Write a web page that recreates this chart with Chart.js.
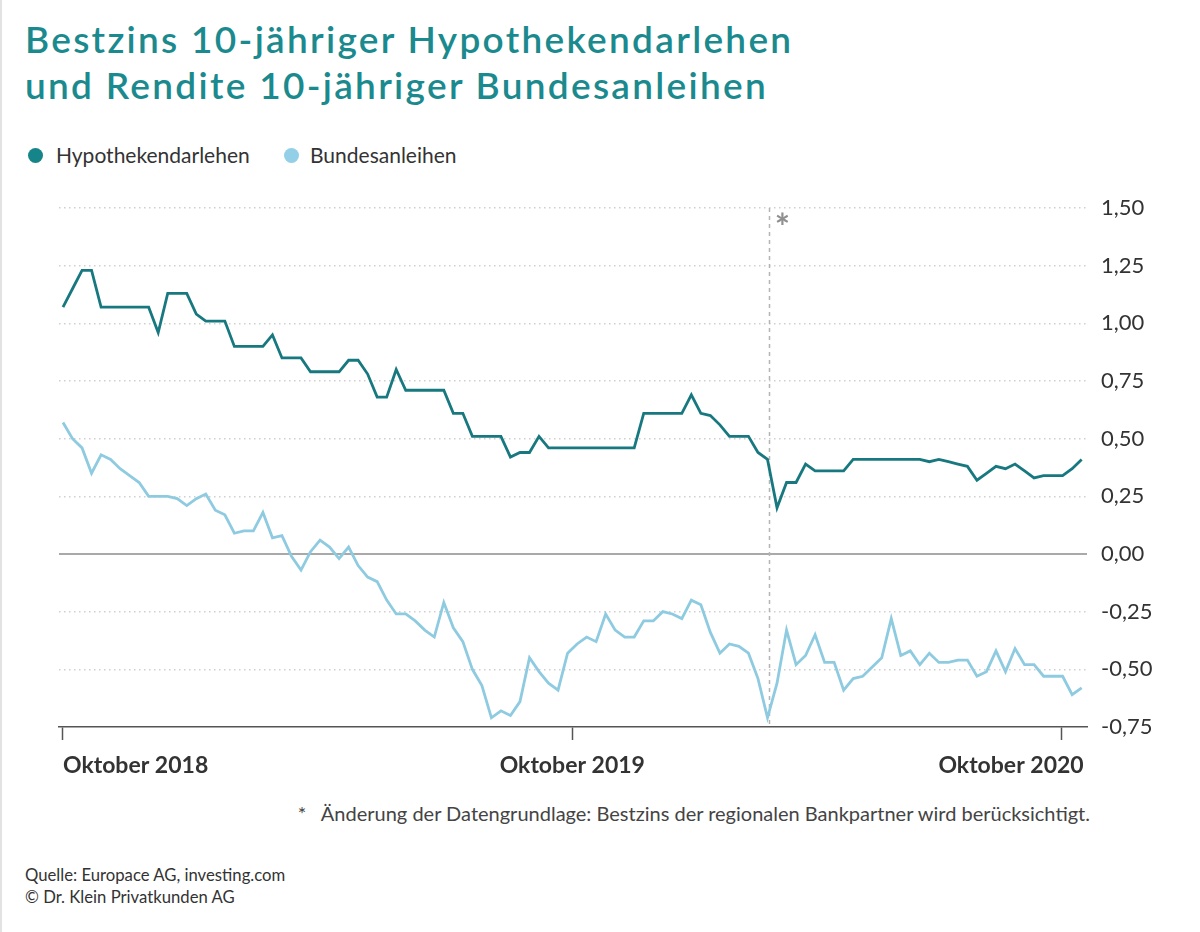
<!DOCTYPE html>
<html lang="de">
<head>
<meta charset="utf-8">
<title>Bestzins und Bundesanleihen</title>
<script src="https://cdn.jsdelivr.net/npm/chart.js@4.4.1/dist/chart.umd.min.js"></script>
<style>
  html, body { margin: 0; padding: 0; background: #fff; }
  body { width: 1200px; height: 932px; position: relative; overflow: hidden; font-family: "Lato", "Noto Sans", sans-serif; color: #333; }
  .edge { position: absolute; left: 0; top: 0; width: 2px; height: 932px; background: #e2e2e2; }
  h1 { position: absolute; left: 25px; top: 16px; margin: 0; font-size: 37px; line-height: 46px; font-weight: 600; color: #1b8a8e; letter-spacing: 2.3px; white-space: nowrap; }
  .legend { position: absolute; left: 28px; top: 141px; font-size: 21px; line-height: 28px; }
  .legend span { position: absolute; white-space: nowrap; }
  .dot { width: 15px; height: 15px; border-radius: 50%; top: 7px; }
  .note { position: absolute; right: 110px; top: 801px; font-size: 20px; color: #444; white-space: nowrap; }
  .source { position: absolute; left: 25px; top: 864px; font-size: 16.7px; line-height: 22px; color: #333; }
  #wrap { position: absolute; left: 0; top: 190px; width: 1200px; height: 600px; }
</style>
</head>
<body>
<div class="edge"></div>
<h1>Bestzins 10-jähriger Hypothekendarlehen<br>und Rendite 10-jähriger Bundesanleihen</h1>
<div class="legend">
  <span class="dot" style="left:0;background:#16858a"></span>
  <span style="left:28px">Hypothekendarlehen</span>
  <span class="dot" style="left:256px;background:#93cfe6"></span>
  <span style="left:282px">Bundesanleihen</span>
</div>
<div id="wrap"><canvas id="myChart" width="1200" height="600"></canvas></div>
<div class="note">*&nbsp;&nbsp; Änderung der Datengrundlage: Bestzins der regionalen Bankpartner wird berücksichtigt.</div>
<div class="source">Quelle: Europace AG, investing.com<br>© Dr. Klein Privatkunden AG</div>

<script>
// weekly values, Oktober 2018 - Oktober 2020 (in %)
var hypoValues = [
  1.07, 1.15, 1.23, 1.23, 1.07, 1.07, 1.07, 1.07, 1.07, 1.07,
  0.96, 1.13, 1.13, 1.13, 1.04, 1.01, 1.01, 1.01, 0.90, 0.90,
  0.90, 0.90, 0.95, 0.85, 0.85, 0.85, 0.79, 0.79, 0.79, 0.79,
  0.84, 0.84, 0.78, 0.68, 0.68, 0.80, 0.71, 0.71, 0.71, 0.71,
  0.71, 0.61, 0.61, 0.51, 0.51, 0.51, 0.51, 0.42, 0.44, 0.44,
  0.51, 0.46, 0.46, 0.46, 0.46, 0.46, 0.46, 0.46, 0.46, 0.46,
  0.46, 0.61, 0.61, 0.61, 0.61, 0.61, 0.69, 0.61, 0.60, 0.56,
  0.51, 0.51, 0.51, 0.44, 0.41, 0.20, 0.31, 0.31, 0.39, 0.36,
  0.36, 0.36, 0.36, 0.41, 0.41, 0.41, 0.41, 0.41, 0.41, 0.41,
  0.41, 0.40, 0.41, 0.40, 0.39, 0.38, 0.32, 0.35, 0.38, 0.37,
  0.39, 0.36, 0.33, 0.34, 0.34, 0.34, 0.37, 0.41
];
var bundValues = [
  0.57, 0.50, 0.46, 0.35, 0.43, 0.41, 0.37, 0.34, 0.31, 0.25,
  0.25, 0.25, 0.24, 0.21, 0.24, 0.26, 0.19, 0.17, 0.09, 0.10,
  0.10, 0.18, 0.07, 0.08, -0.01, -0.07, 0.01, 0.06, 0.03, -0.02,
  0.03, -0.05, -0.10, -0.12, -0.20, -0.26, -0.26, -0.29, -0.33, -0.36,
  -0.21, -0.32, -0.38, -0.50, -0.57, -0.71, -0.68, -0.70, -0.64, -0.45,
  -0.51, -0.56, -0.59, -0.43, -0.39, -0.36, -0.38, -0.26, -0.33, -0.36,
  -0.36, -0.29, -0.29, -0.25, -0.26, -0.28, -0.20, -0.22, -0.34, -0.43,
  -0.39, -0.40, -0.43, -0.54, -0.71, -0.56, -0.33, -0.48, -0.44, -0.35,
  -0.47, -0.47, -0.59, -0.54, -0.53, -0.49, -0.45, -0.28, -0.44, -0.42,
  -0.48, -0.43, -0.47, -0.47, -0.46, -0.46, -0.53, -0.51, -0.42, -0.51,
  -0.41, -0.48, -0.48, -0.53, -0.53, -0.53, -0.61, -0.58
];
var tickWeeks = [0, 53.5, 104.9];
var tickLabels = ["Oktober 2018", "Oktober 2019", "Oktober 2020"];
var yTicks = [-0.75, -0.5, -0.25, 0, 0.25, 0.5, 0.75, 1, 1.25, 1.5];
var changeWeek = 74.15; // Änderung der Datengrundlage

var hypoPoints = hypoValues.map(function (v, i) { return {x: i, y: v}; });
var bundPoints = bundValues.map(function (v, i) { return {x: i, y: v}; });

// zero line, dashed marker line, x labels
var extras = {
  id: "extras",
  beforeDatasetsDraw: function (chart) {
    var ctx = chart.ctx, a = chart.chartArea;
    var xs = chart.scales.x, ys = chart.scales.y;
    var y0 = ys.getPixelForValue(0);
    var yTop = ys.getPixelForValue(1.5);
    ctx.save();
    ctx.strokeStyle = "#8c8c8c";
    ctx.lineWidth = 1.5;
    ctx.beginPath();
    ctx.moveTo(a.left, y0);
    ctx.lineTo(a.right, y0);
    ctx.stroke();
    var xc = Math.round(xs.getPixelForValue(changeWeek)) + 0.5;
    ctx.strokeStyle = "#b4b4b4";
    ctx.setLineDash([4, 4]);
    ctx.beginPath();
    ctx.moveTo(xc, yTop);
    ctx.lineTo(xc, a.bottom);
    ctx.stroke();
    ctx.setLineDash([]);
    ctx.fillStyle = "#8f8f8f";
    ctx.font = "bold 36px Lato";
    ctx.textAlign = "center";
    ctx.textBaseline = "middle";
    ctx.fillText("*", xc + 13, yTop + 20);
    ctx.restore();
  },
  afterDraw: function (chart) {
    var ctx = chart.ctx, a = chart.chartArea, xs = chart.scales.x;
    var aligns = ["left", "center", "right"];
    ctx.save();
    ctx.fillStyle = "#333";
    ctx.font = "bold 23px Lato";
    ctx.textBaseline = "middle";
    tickLabels.forEach(function (t, i) {
      var x = xs.getPixelForValue(tickWeeks[i]);
      if (i === tickLabels.length - 1) x = xs.getPixelForValue(hypoValues.length - 1) + 2;
      ctx.textAlign = aligns[i];
      ctx.fillText(t, x, a.bottom + 39);
    });
    ctx.restore();
  }
};

new Chart("myChart", {
  type: "line",
  data: {
    datasets: [{
      label: "Hypothekendarlehen",
      data: hypoPoints,
      borderColor: "#17797f",
      borderWidth: 2.8,
      pointRadius: 0,
      tension: 0
    }, {
      label: "Bundesanleihen",
      data: bundPoints,
      borderColor: "#8ecbe0",
      borderWidth: 2.8,
      pointRadius: 0,
      tension: 0
    }]
  },
  options: {
    responsive: false,
    animation: false,
    devicePixelRatio: 1,
    layout: {padding: {left: 59, right: 0, top: 18, bottom: 0}},
    plugins: {
      legend: {display: false},
      title: {display: false},
      tooltip: {enabled: false}
    },
    scales: {
      x: {
        type: "linear",
        min: -0.42,
        max: 107.56,
        afterBuildTicks: function (scale) {
          scale.ticks = tickWeeks.map(function (v) { return {value: v}; });
        },
        afterFit: function (scale) { scale.height = 63; },
        ticks: {display: false},
        grid: {drawOnChartArea: false, drawTicks: true, tickLength: 13, tickColor: "#555", tickWidth: 1.5},
        border: {display: true, color: "#555", width: 1.5}
      },
      y: {
        position: "right",
        min: -0.75,
        max: 1.5,
        afterBuildTicks: function (scale) {
          scale.ticks = yTicks.map(function (v) { return {value: v}; });
        },
        afterFit: function (scale) { scale.width = 113; },
        ticks: {
          padding: 0,
          color: "#333",
          font: {family: "Lato", size: 22},
          callback: function (v) { return v.toFixed(2).replace(".", ","); }
        },
        grid: {
          drawTicks: true,
          tickLength: 14,
          tickColor: "rgba(0,0,0,0)",
          lineWidth: 1.5,
          color: function (c) {
            if (c.tick && (c.tick.value === 0 || c.tick.value === -0.75)) return "rgba(0,0,0,0)";
            return "#cfcfcf";
          }
        },
        border: {display: false, dash: [1.5, 3.5]}
      }
    }
  },
  plugins: [extras]
});
</script>
</body>
</html>
